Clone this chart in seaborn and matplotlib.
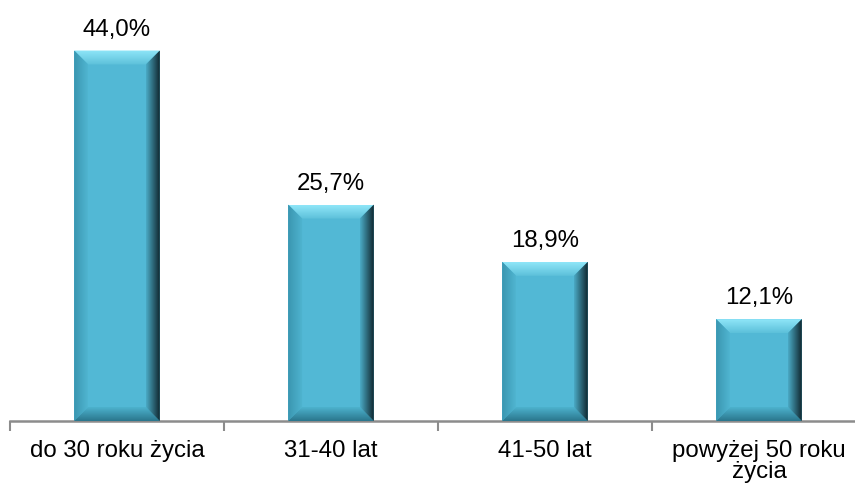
import numpy as np
import pandas as pd
import matplotlib
matplotlib.use("Agg")
import matplotlib.pyplot as plt
from matplotlib.patches import Polygon
from matplotlib.colors import LinearSegmentedColormap
import seaborn as sns

categories = ["do 30 roku życia", "31-40 lat", "41-50 lat", "powyżej 50 roku\nżycia"]
shares = [44.0, 25.7, 18.9, 12.1]
value_labels = ["44,0%", "25,7%", "18,9%", "12,1%"]

df = pd.DataFrame({"grupa": categories, "udzial": shares})

sns.set_theme(style="white")
plt.rcParams["font.family"] = ["Liberation Sans", "DejaVu Sans"]

W, H, DPI = 855, 488, 100
fig = plt.figure(figsize=(W / DPI, H / DPI), dpi=DPI)
ax = fig.add_axes([10 / W, 67 / H, 856 / W, 421 / H])

face = "#52B8D5"
sns.barplot(data=df, x="grupa", y="udzial", color=face, saturation=1,
            width=0.4, ax=ax, edgecolor="none", linewidth=0, zorder=2)

ax.set_ylim(0, 50)
ax.set_xlim(-0.5, len(categories) - 0.5)
ax.set_xlabel("")
ax.set_ylabel("")
ax.set_yticks([])
for s in ["top", "right", "left"]:
    ax.spines[s].set_visible(False)
ax.spines["bottom"].set_color("#8C8C8C")
ax.spines["bottom"].set_linewidth(1.8)

# category boundary ticks below the axis
ax.set_xticks(np.arange(-0.5, len(categories) + 0.5, 1.0), minor=True)
ax.tick_params(axis="x", which="minor", length=7, width=1.5, color="#8C8C8C",
               direction="out", bottom=True)
ax.tick_params(axis="x", which="major", length=0, pad=14, labelsize=17.3,
               labelcolor="black")
for lbl in ax.get_xticklabels():
    lbl.set_linespacing(0.92)
    lbl.set_verticalalignment("top")

fig.canvas.draw()
to_data = ax.transData.inverted()


def px_to_data(dx, dy):
    x0, y0 = to_data.transform((0, 0))
    x1, y1 = to_data.transform((dx, dy))
    return x1 - x0, y1 - y0


bx, by = px_to_data(14, 14)


def gradient_poly(pts, c0, c1, horizontal, z=3):
    poly = Polygon(pts, closed=True, facecolor="none", edgecolor="none", zorder=z)
    ax.add_patch(poly)
    cmap = LinearSegmentedColormap.from_list("g", [c0, c1])
    xs = [p[0] for p in pts]
    ys = [p[1] for p in pts]
    grad = np.linspace(0, 1, 64)
    arr = grad[None, :] if horizontal else grad[:, None]
    im = ax.imshow(arr, cmap=cmap, extent=[min(xs), max(xs), min(ys), max(ys)],
                   origin="lower", aspect="auto", zorder=z, interpolation="bilinear")
    im.set_clip_path(poly)


for patch in list(ax.patches):
    if not hasattr(patch, "get_x") or patch.get_height() <= 0:
        continue
    x0 = patch.get_x()
    x1 = x0 + patch.get_width()
    y0 = patch.get_y()
    y1 = y0 + patch.get_height()
    # top bevel (light)
    gradient_poly([(x0, y1), (x1, y1), (x1 - bx, y1 - by), (x0 + bx, y1 - by)],
                  "#5CC0DA", "#8FE6F8", horizontal=False)
    # left bevel
    gradient_poly([(x0, y0), (x0 + bx, y0 + by), (x0 + bx, y1 - by), (x0, y1)],
                  "#3A96B0", "#50B5D1", horizontal=True)
    # bottom bevel
    gradient_poly([(x0, y0), (x1, y0), (x1 - bx, y0 + by), (x0 + bx, y0 + by)],
                  "#2A768C", "#4DB2CE", horizontal=False)
    # right bevel (shadowed)
    gradient_poly([(x1, y0), (x1, y1), (x1 - bx, y1 - by), (x1 - bx, y0 + by)],
                  "#4AAAC5", "#112830", horizontal=True)

ax.set_xlim(-0.5, len(categories) - 0.5)
ax.set_ylim(0, 50)

for i, (v, t) in enumerate(zip(shares, value_labels)):
    ax.annotate(t, (i, v), xytext=(0, 10), textcoords="offset pixels",
                ha="center", va="bottom", fontsize=17.3, color="black")

fig.savefig("out.png", dpi=DPI)
